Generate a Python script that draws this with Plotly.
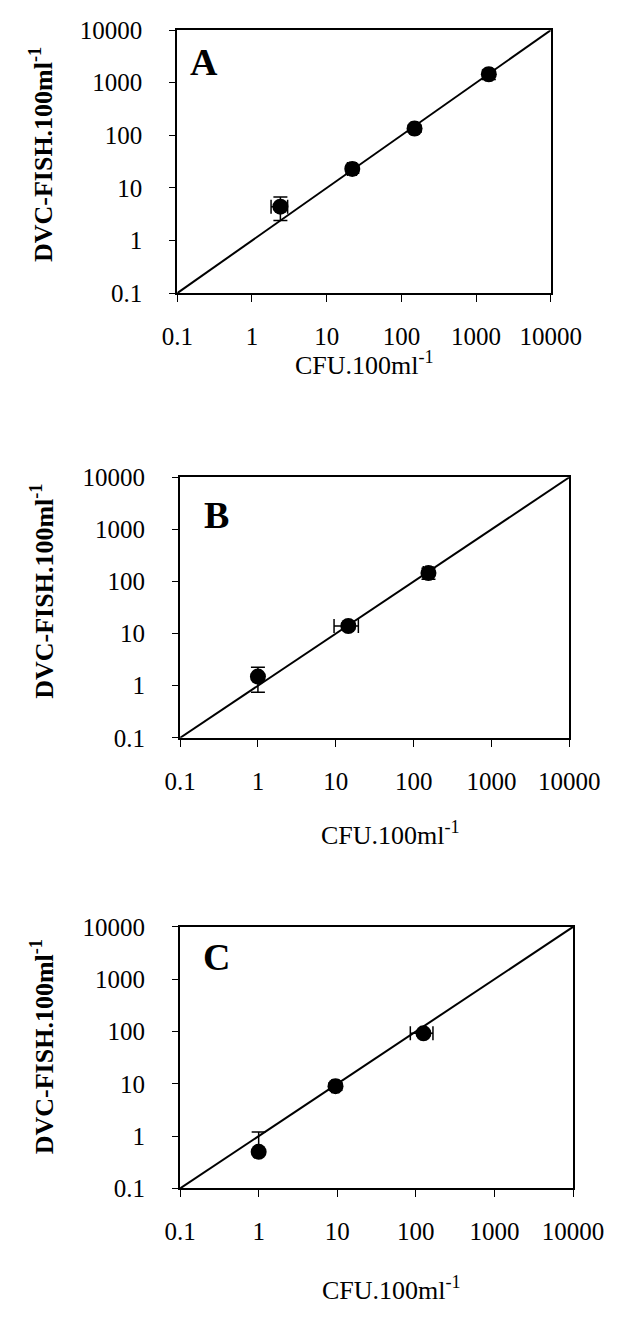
import plotly.graph_objects as go

# ---- data ----
panels = ["A", "B", "C"]

A_x = [2.4, 22, 150, 1480]
A_y = [4.4, 23, 135, 1450]
A_xerr = [0.6, 3, 15, 150]
A_yerr_plus = [2.3, 4, 20, 300]
A_yerr_minus = [2.0, 4, 20, 300]

B_x = [1.0, 14.5, 155]
B_y = [1.5, 14, 145]
B_xerr = [0.05, 5, 22]
B_yerr_plus = [0.75, 2, 35]
B_yerr_minus = [0.75, 2, 35]

C_x = [1.0, 9.5, 125]
C_y = [0.5, 9, 92]
C_xerr = [0.0, 1, 40]
C_yerr_plus = [0.7, 1.5, 10]
C_yerr_minus = [0.0, 1.5, 10]

line_vals = [0.1, 10000]
tick_vals = [0.1, 1, 10, 100, 1000, 10000]
tick_text = ["0.1", "1", "10", "100", "1000", "10000"]

x_title = "CFU.100ml<sup>-1</sup>"
y_title = "<b>DVC-FISH.100ml<sup>-1</sup></b>"

W, H = 643, 1317
FONT = "Liberation Serif"

# pixel boxes: (left, right, top, bottom)
boxes = [(174, 577, 17.5, 286), (177, 597, 474, 740), (177, 601, 933, 1200)]
letter_pos = [(203, 50), (216, 513), (216, 964)]
xtitle_pos = [(376, 358), (404, 838), (405, 1302)]
ytitle_pos = [(27, 145), (29, 590), (29, 1055)]

data = [
    (A_x, A_y, A_xerr, A_yerr_plus, A_yerr_minus),
    (B_x, B_y, B_xerr, B_yerr_plus, B_yerr_minus),
    (C_x, C_y, C_xerr, C_yerr_plus, C_yerr_minus),
]

fig = go.Figure()
annotations = []


def ann(text, px, py, size, angle=0):
    return dict(text=text, x=px / W, y=1 - py / H, xref="paper", yref="paper",
                xanchor="center", yanchor="middle", showarrow=False,
                textangle=angle, font=dict(family=FONT, size=size, color="black"))


for i, (name, box, d) in enumerate(zip(panels, boxes, data)):
    xs, ys, xe, yep, yem = d
    sfx = "" if i == 0 else str(i + 1)
    xa, ya = "x" + sfx, "y" + sfx
    fig.add_trace(go.Scatter(
        x=line_vals, y=line_vals, mode="lines",
        line=dict(color="black", width=2), xaxis=xa, yaxis=ya,
        showlegend=False, hoverinfo="skip"))
    fig.add_trace(go.Scatter(
        x=xs, y=ys, mode="markers",
        marker=dict(color="black", size=16),
        error_x=dict(type="data", array=xe, color="black", thickness=1.5, width=7),
        error_y=dict(type="data", symmetric=False, array=yep, arrayminus=yem,
                     color="black", thickness=1.5, width=7),
        xaxis=xa, yaxis=ya, showlegend=False))
    l, r, t, b = box
    common = dict(type="log", range=[-1, 4], tickvals=tick_vals, ticktext=tick_text,
                  showgrid=False, zeroline=False, showline=True, linecolor="black",
                  linewidth=2, mirror=True, ticks="outside", tickcolor="black",
                  tickwidth=1, tickfont=dict(family=FONT, size=25, color="black"))
    fig.layout["xaxis" + sfx] = dict(common, domain=[l / W, r / W], anchor=ya,
                                     ticklen=7, ticklabelstandoff=13)
    fig.layout["yaxis" + sfx] = dict(common, domain=[1 - b / H, 1 - t / H], anchor=xa,
                                     ticklen=6, ticklabelstandoff=22)
    lx, ly = letter_pos[i]
    annotations.append(ann("<b>" + name + "</b>", lx, ly, 38))
    tx, ty = xtitle_pos[i]
    annotations.append(ann(x_title, tx, ty, 26))
    yx, yy = ytitle_pos[i]
    annotations.append(ann(y_title, yx, yy, 26, angle=-90))

fig.update_layout(width=W, height=H, margin=dict(l=0, r=0, t=0, b=0),
                  paper_bgcolor="white", plot_bgcolor="white",
                  annotations=annotations)
fig.write_html("out.html", config={"displayModeBar": False},
               post_script="document.body.style.margin='0';"
                           "document.body.style.overflow='hidden';")
